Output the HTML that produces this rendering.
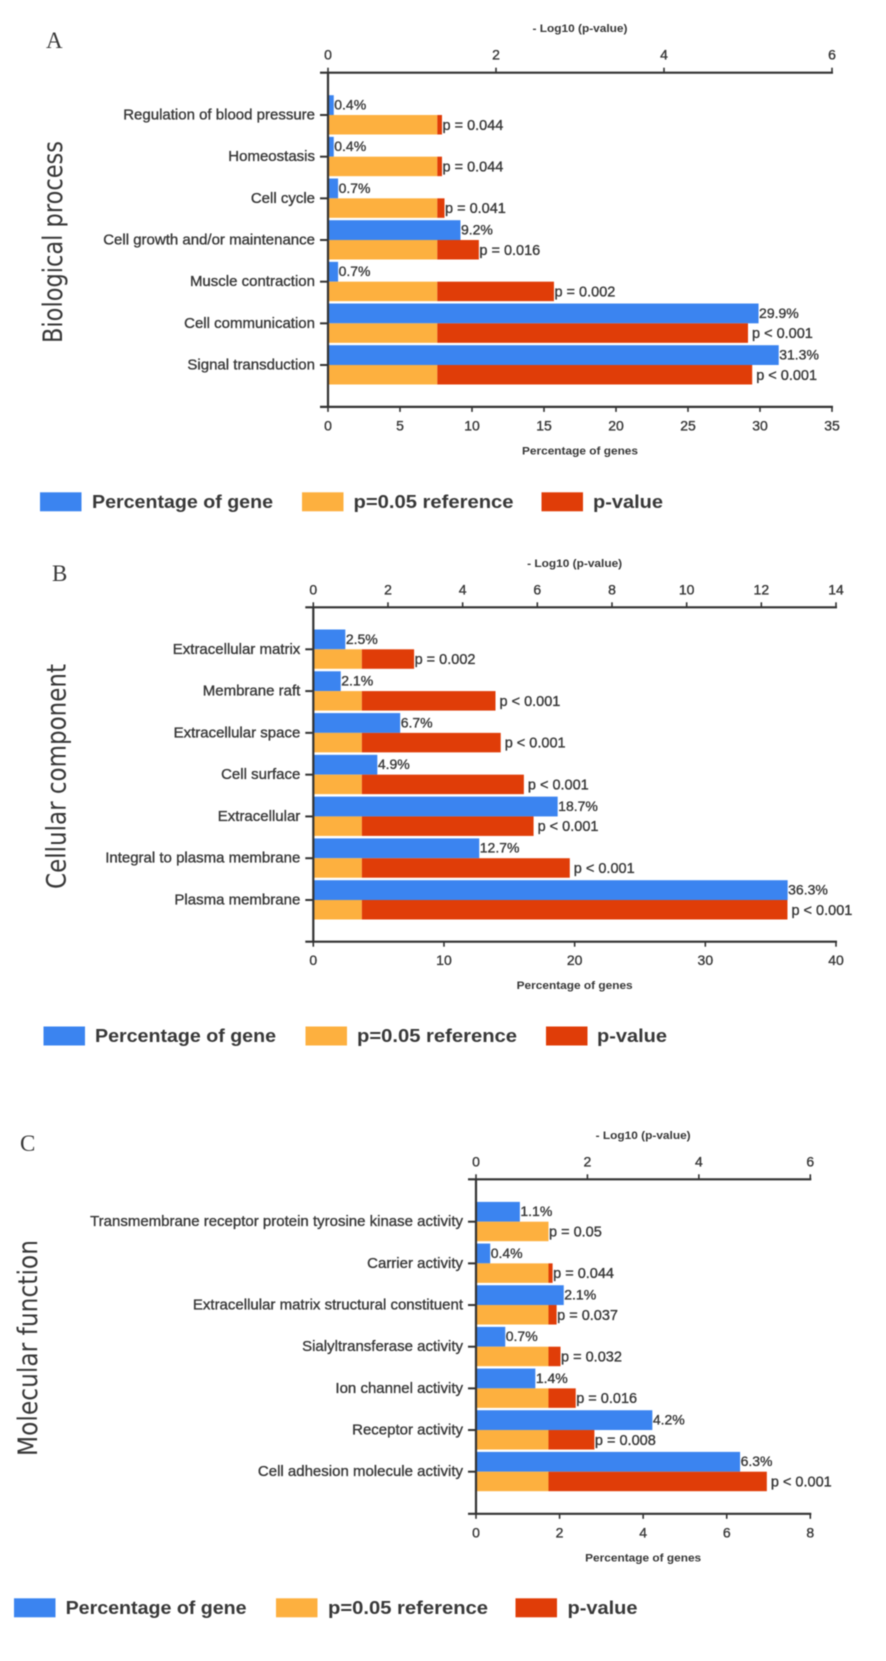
<!DOCTYPE html>
<html lang="en">
<head>
<meta charset="utf-8">
<title>Gene ontology enrichment charts</title>
<style>
html,body{margin:0;padding:0;background:#fff;width:886px;height:1661px;overflow:hidden}
svg{display:block;filter:blur(0.6px)}
text{font-family:"Liberation Sans",sans-serif;fill:#383838}
.heavy{stroke:#383838;stroke-width:0.35px}
</style>
</head>
<body>
<svg id="figure" xmlns="http://www.w3.org/2000/svg" width="886" height="1661" viewBox="0 0 886 1661"></svg>
<script>
// ---- Panel A data ----
const aCategories = ['Regulation of blood pressure','Homeostasis','Cell cycle','Cell growth and/or maintenance','Muscle contraction','Cell communication','Signal transduction'];
const aPercent = [0.4,0.4,0.7,9.2,0.7,29.9,31.3];
const aPercentLabels = ['0.4%','0.4%','0.7%','9.2%','0.7%','29.9%','31.3%'];
const aLogP = [1.357,1.357,1.387,1.796,2.69,5.0,5.05];
const aPLabels = ['p = 0.044','p = 0.044','p = 0.041','p = 0.016','p = 0.002','p < 0.001','p < 0.001'];
const aPercentTicks = [0,5,10,15,20,25,30,35];
const aLogTicks = [0,2,4,6];

// ---- Panel B data ----
const bCategories = ['Extracellular matrix','Membrane raft','Extracellular space','Cell surface','Extracellular','Integral to plasma membrane','Plasma membrane'];
const bPercent = [2.45,2.1,6.65,4.9,18.7,12.7,36.3];
const bPercentLabels = ['2.5%','2.1%','6.7%','4.9%','18.7%','12.7%','36.3%'];
const bLogP = [2.7,4.88,5.02,5.64,5.9,6.87,12.7];
const bPLabels = ['p = 0.002','p < 0.001','p < 0.001','p < 0.001','p < 0.001','p < 0.001','p < 0.001'];
const bPercentTicks = [0,10,20,30,40];
const bLogTicks = [0,2,4,6,8,10,12,14];

// ---- Panel C data ----
const cCategories = ['Transmembrane receptor protein tyrosine kinase activity','Carrier activity','Extracellular matrix structural constituent','Sialyltransferase activity','Ion channel activity','Receptor activity','Cell adhesion molecule activity'];
const cPercent = [1.05,0.34,2.1,0.7,1.42,4.22,6.32];
const cPercentLabels = ['1.1%','0.4%','2.1%','0.7%','1.4%','4.2%','6.3%'];
const cLogP = [1.301,1.375,1.447,1.517,1.79,2.125,5.22];
const cPLabels = ['p = 0.05','p = 0.044','p = 0.037','p = 0.032','p = 0.016','p = 0.008','p < 0.001'];
const cPercentTicks = [0,2,4,6,8];
const cLogTicks = [0,2,4,6];

// Shared reference level: -log10(0.05)
const referenceLog = 1.301;
const legendLabels = ['Percentage of gene','p=0.05 reference','p-value'];

const BLUE = '#3b84f0', ORANGE = '#fdb03f', RED = '#e03d08', INK = '#333';
const NS = 'http://www.w3.org/2000/svg';
const root = document.getElementById('figure');

function make(tag, attrs, parent, content) {
  const node = document.createElementNS(NS, tag);
  for (const k in attrs) node.setAttribute(k, attrs[k]);
  if (content !== undefined) node.textContent = content;
  parent.appendChild(node);
  return node;
}
function linearScale(dMax, r0, r1) {
  return function (v) { return r0 + (v / dMax) * (r1 - r0); };
}
function bandCenter(n, first, last) {
  return function (i) { return first + i * (last - first) / (n - 1); };
}

function drawPanel(p) {
  const g = make('g', {}, root);
  
  

  const xPct = linearScale(p.percentTicks[p.percentTicks.length - 1], p.x0, p.x1);
  const xLog = linearScale(p.logTicks[p.logTicks.length - 1], p.x0, p.x1);
  const yCat = bandCenter(p.categories.length, p.firstY, p.lastY);
  const mid = (p.x0 + p.x1) / 2;

  const letter = make('text', {x: p.letterX, y: p.letterY, 'font-size': 23, style: 'font-family:"Liberation Serif",serif'}, g, p.letter);
  
  

  const side = make('text', {
    transform: 'translate(' + p.sideX + ',' + p.sideY + ') rotate(-90)',
    'text-anchor': 'middle', 'font-size': 27, textLength: p.sideLen, lengthAdjust: 'spacingAndGlyphs',
    style: 'font-family:"DejaVu Sans",sans-serif'
  }, g, p.sideTitle);
  
  

  // Bars
  p.categories.forEach(function (name, i) {
    const yc = yCat(i);
    const b = make('rect', {x: p.x0, y: yc - 19.8, width: xPct(p.percent[i]) - p.x0, height: 19.8, fill: BLUE}, g);
    
    
    const o = make('rect', {x: p.x0, y: yc, width: xLog(Math.min(referenceLog, p.logP[i])) - p.x0, height: 19.5, fill: ORANGE}, g);
    
    
    const rw = xLog(p.logP[i]) - xLog(referenceLog);
    const r = make('rect', {x: xLog(referenceLog), y: yc, width: Math.max(0, rw), height: 19.5, fill: RED}, g);
    
    

    const lb = make('text', {x: xPct(p.percent[i]) + 0.5, y: yc - 10.5, 'font-size': 14, 'dominant-baseline': 'central', class: 'heavy'}, g, p.percentLabels[i]);
    
    
    const off = p.pLabels[i].indexOf('<') >= 0 ? 4 : 0.5;
    const lp = make('text', {x: xLog(p.logP[i]) + off, y: yc + 10.8, 'font-size': 14.5, 'dominant-baseline': 'central', class: 'heavy'}, g, p.pLabels[i]);
    
    

    const cat = make('text', {x: p.x0 - 13, y: yc, 'font-size': 15, 'text-anchor': 'end', 'dominant-baseline': 'central', class: 'heavy'}, g, name);
    
    
    const tk = make('line', {x1: p.x0 - 8, x2: p.x0, y1: yc, y2: yc, stroke: INK, 'stroke-width': 2}, g);
    
    
  });

  // Axes
  const ya = make('line', {x1: p.x0, x2: p.x0, y1: p.yTop, y2: p.yBottom, stroke: INK, 'stroke-width': 2.2}, g);
  
  
  const ta = make('line', {x1: p.x0 - 8, x2: p.x1 + 1, y1: p.yTop, y2: p.yTop, stroke: INK, 'stroke-width': 2.2}, g);
  
  
  const ba = make('line', {x1: p.x0 - 8, x2: p.x1 + 1, y1: p.yBottom, y2: p.yBottom, stroke: INK, 'stroke-width': 2.2}, g);
  
  

  p.logTicks.forEach(function (t) {
    const x = xLog(t);
    const m = make('line', {x1: x, x2: x, y1: p.yTop - 5, y2: p.yTop, stroke: INK, 'stroke-width': 1.6}, g);
    
    
    const l = make('text', {x: x, y: p.yTop - 18, 'font-size': 14, 'text-anchor': 'middle', 'dominant-baseline': 'central', class: 'heavy'}, g, String(t));
    
    
  });
  p.percentTicks.forEach(function (t) {
    const x = xPct(t);
    const m = make('line', {x1: x, x2: x, y1: p.yBottom, y2: p.yBottom + 5, stroke: INK, 'stroke-width': 1.6}, g);
    
    
    const l = make('text', {x: x, y: p.yBottom + 18.5, 'font-size': 14, 'text-anchor': 'middle', 'dominant-baseline': 'central', class: 'heavy'}, g, String(t));
    
    
  });

  const tt = make('text', {x: mid, y: p.yTop - 43.5, 'font-size': 11, 'font-weight': 'bold', 'text-anchor': 'middle', 'dominant-baseline': 'central', textLength: 95, lengthAdjust: 'spacingAndGlyphs'}, g, '- Log10 (p-value)');
  
  
  const bt = make('text', {x: mid, y: p.yBottom + 44.5, 'font-size': 11, 'font-weight': 'bold', 'text-anchor': 'middle', 'dominant-baseline': 'central', textLength: 116, lengthAdjust: 'spacingAndGlyphs'}, g, 'Percentage of genes');
  
  

  // Legend
  const colors = [BLUE, ORANGE, RED];
  const widths = [181, 160, 70];
  legendLabels.forEach(function (label, i) {
    const s = make('rect', {x: p.legendSwatch[i], y: p.legendY, width: 41.5, height: 19, fill: colors[i]}, g);
    
    
    const t = make('text', {x: p.legendText[i], y: p.legendY + 9.5, 'font-size': 18, 'font-weight': 'bold', 'dominant-baseline': 'central', textLength: widths[i], lengthAdjust: 'spacingAndGlyphs'}, g, label);
    
    
  });
}

drawPanel({
  id: 'biological-process', letter: 'A', letterX: 46, letterY: 48,
  sideTitle: 'Biological process', sideX: 62, sideY: 242, sideLen: 202,
  x0: 328, x1: 832, yTop: 72.7, yBottom: 406.9, firstY: 115, lastY: 365,
  categories: aCategories, percent: aPercent, percentLabels: aPercentLabels, logP: aLogP, pLabels: aPLabels,
  percentTicks: aPercentTicks, logTicks: aLogTicks,
  legendY: 492.3, legendSwatch: [40, 302, 541.5], legendText: [92, 353.5, 593]
});
drawPanel({
  id: 'cellular-component', letter: 'B', letterX: 52, letterY: 581,
  sideTitle: 'Cellular component', sideX: 65.5, sideY: 776.5, sideLen: 225,
  x0: 313.3, x1: 836, yTop: 607.3, yBottom: 941.7, firstY: 649.3, lastY: 900,
  categories: bCategories, percent: bPercent, percentLabels: bPercentLabels, logP: bLogP, pLabels: bPLabels,
  percentTicks: bPercentTicks, logTicks: bLogTicks,
  legendY: 1026.5, legendSwatch: [43.5, 305.5, 546], legendText: [95, 357, 597]
});
drawPanel({
  id: 'molecular-function', letter: 'C', letterX: 20, letterY: 1151,
  sideTitle: 'Molecular function', sideX: 37, sideY: 1348, sideLen: 216,
  x0: 476, x1: 810.3, yTop: 1179.3, yBottom: 1513.8, firstY: 1221.7, lastY: 1471.7,
  categories: cCategories, percent: cPercent, percentLabels: cPercentLabels, logP: cLogP, pLabels: cPLabels,
  percentTicks: cPercentTicks, logTicks: cLogTicks,
  legendY: 1598.3, legendSwatch: [14, 276, 515.5], legendText: [65.6, 328, 567.5]
});
</script>
</body>
</html>
